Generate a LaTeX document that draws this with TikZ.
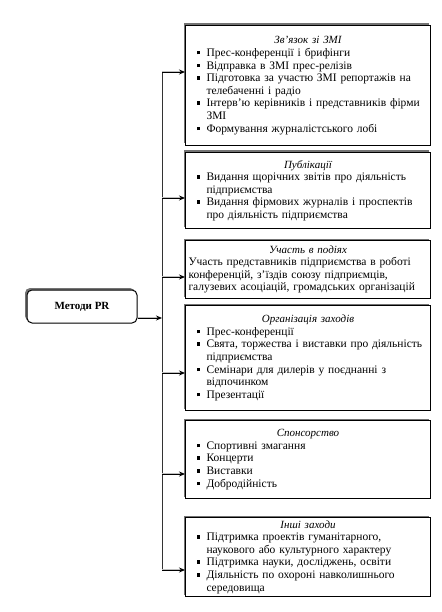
\documentclass[tikz,border=0pt]{standalone}
\usepackage{fontspec}
\setmainfont{Liberation Serif}
\usetikzlibrary{arrows.meta,shadows}
% пункт списку з квадратним маркером
\newcommand{\bul}{\par\hangindent=18pt\hangafter=1\noindent\makebox[18pt][l]{\hspace{8pt}\rule[2pt]{3.5pt}{3.5pt}}}
\newcommand{\ttl}[1]{{\centering\itshape #1\par}}
\begin{document}
\begin{tikzpicture}[
    x=1pt, y=-1pt,
    box/.style={draw, line width=1pt, fill=white, anchor=north west,
        minimum width=245pt, text width=239pt, inner xsep=3pt, inner ysep=3pt,
        align=left, font=\fontsize{11.5}{12.6}\selectfont,
        general shadow={fill=black!55, shadow xshift=-2pt, shadow yshift=2pt}},
    root/.style={draw, line width=1pt, fill=white, rounded corners=5pt,
        minimum width=110pt, minimum height=33pt, font=\bfseries\fontsize{11}{13}\selectfont,
        general shadow={fill=black!55, shadow xshift=-2pt, shadow yshift=2pt}},
    link/.style={-{Stealth[length=6pt,width=5pt]}, line width=0.9pt,
        preaction={draw=black!25, line width=2.6pt, shorten >=4pt, -}},
    spine/.style={draw=black!80, line width=0.8pt}
]
    \useasboundingbox (0,0) rectangle (441,612);

    % головний вузол
    \node[root] (pr) at (82,306.5) {Методи PR};

    % блоки методів
    \node[box, minimum height=120pt] (zmi) at (185,25) {%
        \ttl{\fontsize{11}{12.6}\selectfont Зв’язок зі ЗМІ}
        \bul Прес-конференції і брифінги
        \bul Відправка в ЗМІ прес-релізів
        \bul Підготовка за участю ЗМІ репортажів на телебаченні і радіо
        \bul Інтерв'ю керівників і представників фірми ЗМІ
        \bul Формування журналістського лобі\par};
    \node[box, minimum height=76pt] (pub) at (185,152) {%
        \ttl{\fontsize{11}{12.6}\selectfont Публікації}
        \bul Видання щорічних звітів про діяльність підприємства
        \bul Видання фірмових журналів і проспектів про діяльність підприємства\par};
    \node[box, minimum height=58pt] (pod) at (185,240) {%
        \ttl{\fontsize{11}{12.6}\selectfont Участь в подіях}
        \noindent Участь представників підприємства в роботі конференцій, з'їздів союзу підприємців, галузевих асоціацій, громадських організацій\par};
    \node[box, minimum height=105pt] (org) at (185,305) {%
        \ttl{\fontsize{11}{12.6}\selectfont Організація заходів}
        \bul Прес-конференції
        \bul Свята, торжества і виставки про діяльність підприємства
        \bul Семінари для дилерів у поєднанні з відпочинком
        \bul Презентації\par};
    \node[box, minimum height=78pt] (spon) at (185,420) {%
        \ttl{\fontsize{11}{12.6}\selectfont Спонсорство}
        \bul Спортивні змагання
        \bul Концерти
        \bul Виставки
        \bul Добродійність\par};
    \node[box, minimum height=75pt] (insh) at (185,517) {%
        \ttl{\fontsize{11}{12.6}\selectfont Інші заходи}
        \bul Підтримка проектів гуманітарного, наукового або культурного характеру
        \bul Підтримка науки, досліджень, освіти
        \bul Діяльність по охороні навколишнього середовища\par};

    % точки на вертикальній лінії
    \coordinate (s1) at (162,72);
    \coordinate (s2) at (162,198);
    \coordinate (s3) at (162,277);
    \coordinate (sm) at (162,318);
    \coordinate (s4) at (162,373);
    \coordinate (s5) at (162,474);
    \coordinate (s6) at (162,570);

    \draw[spine] (s1) -- (s6);
    \draw[link] (pr.east |- sm) -- (sm);
    \draw[link] (s1) -- (zmi.west |- s1);
    \draw[link] (s2) -- (pub.west |- s2);
    \draw[link] (s3) -- (pod.west |- s3);
    \draw[link] (s4) -- (org.west |- s4);
    \draw[link] (s5) -- (spon.west |- s5);
    \draw[link] (s6) -- (insh.west |- s6);
\end{tikzpicture}
\end{document}
